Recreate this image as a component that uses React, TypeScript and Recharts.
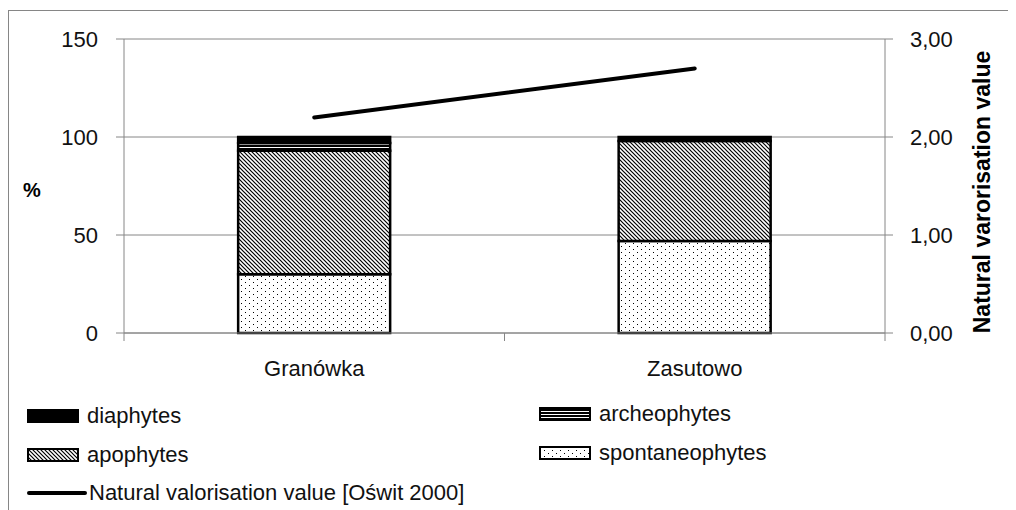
import React from "react";
import {
  ComposedChart,
  Bar,
  Line,
  XAxis,
  YAxis,
  CartesianGrid,
  Label,
} from "recharts";

const sites = ["Granówka", "Zasutowo"];
const spontaneophytes = [30, 47];
const apophytes = [63, 51];
const archeophytes = [4, 0];
const diaphytes = [3, 2];
const valorisation = [2.2, 2.7];
const percentTicks = [0, 50, 100, 150];
const valueTicks = [0, 1, 2, 3];

const GRAY = "#868686";
const FONT = "'Liberation Sans', Arial, sans-serif";

const data = sites.map((site, i) => ({
  site,
  spontaneophytes: spontaneophytes[i],
  apophytes: apophytes[i],
  archeophytes: archeophytes[i],
  diaphytes: diaphytes[i],
  valorisation: valorisation[i],
}));

function SiteTick(props: any) {
  const { x, y, payload, width, visibleTicksCount } = props;
  const half = payload.offset || width / (visibleTicksCount || 2) / 2;
  return (
    <g>
      <line x1={x - half} x2={x - half} y1={y - 8} y2={y} stroke={GRAY} />
      <line x1={x + half} x2={x + half} y1={y - 8} y2={y} stroke={GRAY} />
      <text
        x={x}
        y={y + 35}
        textAnchor="middle"
        fontSize={22}
        fontFamily={FONT}
        fill="#111"
      >
        {payload.value}
      </text>
    </g>
  );
}

function LegendBox({ fill }: { fill: string }) {
  return (
    <svg width={52} height={14} style={{ marginRight: 8, display: "block" }}>
      <rect x={1} y={1} width={50} height={12} fill={fill} stroke="#000" strokeWidth={2} />
    </svg>
  );
}

const legendItem = (left: number, top: number): React.CSSProperties => ({
  position: "absolute",
  left,
  top,
  height: 26,
  display: "flex",
  alignItems: "center",
  fontSize: 22,
  fontFamily: FONT,
  color: "#111",
  whiteSpace: "nowrap",
});

export default function App() {
  return (
    <div style={{ position: "relative", width: 1008, height: 502, fontFamily: FONT }}>
      <div
        style={{
          position: "absolute",
          left: 0,
          top: 2,
          width: 1008,
          height: 500,
          borderLeft: `1px solid ${GRAY}`,
          borderTop: `1px solid ${GRAY}`,
        }}
      />
      <div style={{ position: "absolute", left: 0, top: 0 }}>
        <ComposedChart
          width={1000}
          height={390}
          data={data}
          margin={{ top: 31, right: 0, bottom: 0, left: 0 }}
          barCategoryGap="30%"
        >
          <defs>
            <pattern id="patApo" width={4} height={4} patternUnits="userSpaceOnUse">
              <rect width={4} height={4} fill="#fff" />
              <path d="M-1,-1 L5,5 M-1,3 L1,5 M3,-1 L5,1" stroke="#000" strokeWidth={1.2} />
            </pattern>
            <pattern id="patArch" width={6} height={3} patternUnits="userSpaceOnUse">
              <rect width={6} height={3} fill="#000" />
              <rect y={1} width={6} height={1} fill="#fff" />
            </pattern>
            <pattern id="patSpont" width={8} height={6} patternUnits="userSpaceOnUse">
              <rect width={8} height={6} fill="#fff" />
              <rect x={1} y={1} width={1} height={1} fill="#000" />
              <rect x={5} y={4} width={1} height={1} fill="#000" />
            </pattern>
          </defs>
          <CartesianGrid vertical={false} stroke={GRAY} />
          <XAxis
            dataKey="site"
            height={65}
            axisLine={{ stroke: GRAY }}
            tickLine={false}
            tickSize={8}
            tickMargin={0}
            tick={<SiteTick />}
            interval={0}
          />
          <YAxis
            width={116}
            domain={[0, 150]}
            ticks={percentTicks}
            axisLine={{ stroke: GRAY }}
            tickLine={{ stroke: GRAY }}
            tickSize={8}
            tickMargin={18}
            tick={{ fontSize: 22, fontFamily: FONT, fill: "#111" }}
          >
            <Label
              content={(p: any) => {
                const vb = p.viewBox;
                return (
                  <text
                    x={vb.x + 15}
                    y={vb.y + vb.height / 2 + 11}
                    fontSize={20}
                    fontWeight="bold"
                    fontFamily={FONT}
                    fill="#000"
                  >
                    %
                  </text>
                );
              }}
            />
          </YAxis>
          <YAxis
            yAxisId="right"
            orientation="right"
            width={123}
            domain={[0, 3]}
            ticks={valueTicks}
            axisLine={{ stroke: GRAY }}
            tickLine={{ stroke: GRAY }}
            tickSize={8}
            tickMargin={17}
            tickFormatter={(v: number) => v.toFixed(2).replace(".", ",")}
            tick={{ fontSize: 22, fontFamily: FONT, fill: "#111" }}
          >
            <Label
              content={(p: any) => {
                const vb = p.viewBox;
                const x = vb.x + vb.width - 18;
                const y = vb.y + vb.height / 2 + 6;
                return (
                  <text
                    x={x}
                    y={y}
                    transform={`rotate(-90, ${x}, ${y})`}
                    textAnchor="middle"
                    fontSize={23}
                    fontWeight="bold"
                    fontFamily={FONT}
                    fill="#000"
                  >
                    Natural varorisation value
                  </text>
                );
              }}
            />
          </YAxis>
          <Bar dataKey="spontaneophytes" stackId="a" fill="url(#patSpont)" stroke="#000" strokeWidth={2.5} isAnimationActive={false} />
          <Bar dataKey="apophytes" stackId="a" fill="url(#patApo)" stroke="#000" strokeWidth={2.5} isAnimationActive={false} />
          <Bar dataKey="archeophytes" stackId="a" fill="url(#patArch)" stroke="#000" strokeWidth={2.5} isAnimationActive={false} />
          <Bar dataKey="diaphytes" stackId="a" fill="#000" stroke="#000" strokeWidth={2.5} isAnimationActive={false} />
          <Line
            yAxisId="right"
            dataKey="valorisation"
            stroke="#000"
            strokeWidth={4}
            strokeLinecap="round"
            dot={false}
            activeDot={false}
            isAnimationActive={false}
          />
        </ComposedChart>
      </div>

      <div style={legendItem(19, 395)}>
        <LegendBox fill="#000" />
        diaphytes
      </div>
      <div style={legendItem(531, 393)}>
        <LegendBox fill="url(#patArch)" />
        archeophytes
      </div>
      <div style={legendItem(19, 434)}>
        <LegendBox fill="url(#patApo)" />
        apophytes
      </div>
      <div style={legendItem(531, 432)}>
        <LegendBox fill="url(#patSpont)" />
        spontaneophytes
      </div>
      <div style={legendItem(19, 472)}>
        <svg width={60} height={6} style={{ display: "block", marginRight: 2 }}>
          <line x1={2} x2={58} y1={3} y2={3} stroke="#000" strokeWidth={4} strokeLinecap="round" />
        </svg>
        Natural valorisation value [Oświt 2000]
      </div>
    </div>
  );
}
